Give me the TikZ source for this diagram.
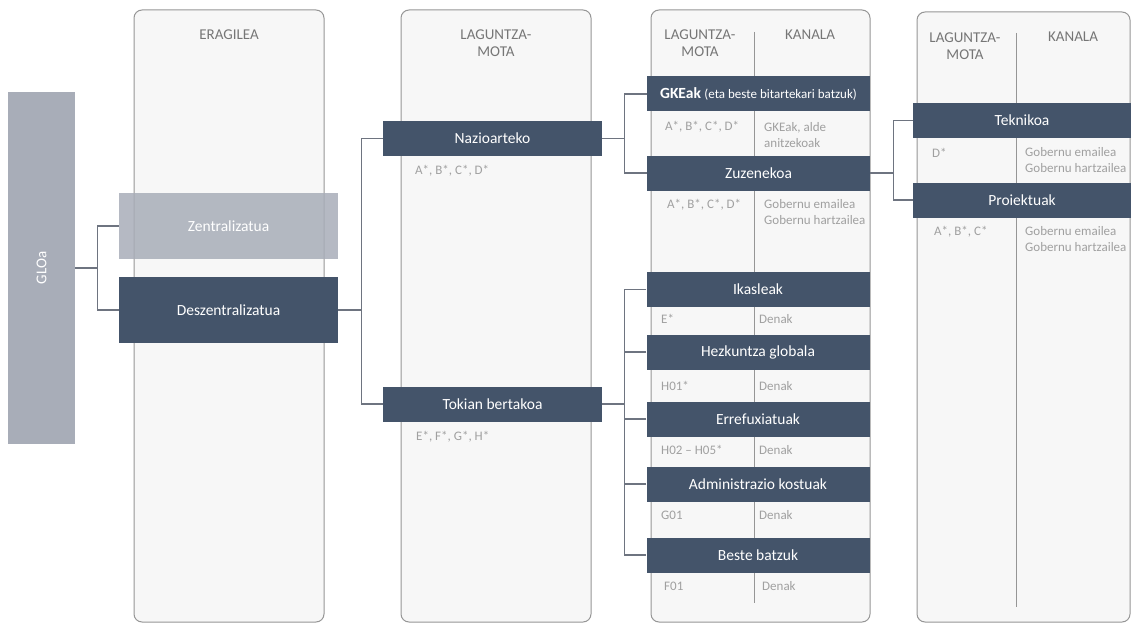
\documentclass[tikz,border=0pt]{standalone}
\usepackage{fontspec}
\setmainfont{Carlito}
\usetikzlibrary{positioning}
\definecolor{darkbox}{RGB}{68,84,106}
\definecolor{greybox}{RGB}{168,173,184}
\definecolor{panelfill}{RGB}{247,247,247}
\definecolor{panelline}{RGB}{150,150,150}
\definecolor{headtext}{RGB}{118,118,118}
\definecolor{notetext}{RGB}{160,160,160}
\definecolor{linkline}{RGB}{110,116,128}
\tikzset{
  panel/.style={draw=panelline, fill=panelfill, line width=1pt, rounded corners=8pt, minimum height=612pt, inner sep=0pt},
  head/.style={text=headtext, align=center, font=\fontsize{15}{17}\selectfont},
  topic/.style={fill=darkbox, text=white, minimum height=35pt, inner sep=0pt, font=\fontsize{15.5}{17}\selectfont},
  greytopic/.style={topic, fill=greybox, fill opacity=0.85, text opacity=1},
  note/.style={text=notetext, anchor=west, align=left, inner sep=0pt, font=\fontsize{13}{15.5}\selectfont},
  divider/.style={draw=panelline, line width=0.8pt},
  link/.style={draw=linkline, line width=1.4pt},
}
\begin{document}
\begin{tikzpicture}[x=1pt, y=-1pt]
\useasboundingbox (0,0) rectangle (1131,623);
% columns
\node[panel, minimum width=190pt] (eragilea) at (229,316) {};
\node[panel, minimum width=190pt] (motacol) at (496,316) {};
\node[panel, minimum width=219pt] (kanalcol) at (760.5,316) {};
\node[panel, minimum width=213pt, minimum height=610pt] (extracol) at (1023.5,317) {};
\draw[divider] (754,32) -- (754,603);
\draw[divider] (1016,33) -- (1016,607);
\node[head] (h1) at (229,35) {ERAGILEA};
\node[head] (h2) at (496,43.5) {LAGUNTZA-\\MOTA};
\node[head] (h3) at (700,43.5) {LAGUNTZA-\\MOTA};
\node[head] (h4) at (810,35) {KANALA};
\node[head] (h5) at (965,46.5) {LAGUNTZA-\\MOTA};
\node[head] (h6) at (1073,37) {KANALA};
% boxes
\node[fill=greybox, minimum width=67pt, minimum height=352pt, inner sep=0pt] (glo) at (41.5,268) {};
\node[rotate=90, text=white, font=\fontsize{15}{17}\selectfont] (glolabel) at (glo.center) {GLOa};
\node[greytopic, minimum width=219pt, minimum height=66pt] (zentral) at (228.5,226) {Zentralizatua};
\node[topic, minimum width=219pt, minimum height=66pt] (deszentral) at (228.5,310) {Deszentralizatua};
\node[topic, minimum width=219pt] (nazio) at (492.5,138.5) {Nazioarteko};
\node[topic, minimum width=219pt] (tokian) at (492.5,404) {Tokian bertakoa};
\node[topic, minimum width=223pt] (gkeak) at (758.5,94) {\textbf{GKEak} {\fontsize{13}{15}\selectfont(eta beste bitartekari batzuk)}};
\node[topic, minimum width=223pt] (zuzen) at (758.5,173) {Zuzenekoa};
\node[topic, minimum width=223pt] (ikasle) at (758,289.5) {Ikasleak};
\node[topic, minimum width=223pt] (hezkuntza) at (758,352) {Hezkuntza globala};
\node[topic, minimum width=223pt] (errefux) at (758,419) {Errefuxiatuak};
\node[topic, minimum width=223pt] (admin) at (758,484) {Administrazio kostuak};
\node[topic, minimum width=223pt] (beste) at (758,555) {Beste batzuk};
\node[topic, minimum width=218pt] (tekniko) at (1022,120.5) {Teknikoa};
\node[topic, minimum width=218pt] (proiektu) at (1022,200) {Proiektuak};
% notes
\node[note] (naziocode) at (415,171) {A*, B*, C*, D*};
\node[note] (tokiancode) at (416,437) {E*, F*, G*, H*};
\node[note] (gkeakcode) at (665,127) {A*, B*, C*, D*};
\node[note] (gkeakchan) at (764,135) {GKEak, alde\\anitzekoak};
\node[note] (zuzencode) at (667,205) {A*, B*, C*, D*};
\node[note] (zuzenchan) at (764,212) {Gobernu emailea\\Gobernu hartzailea};
\node[note] (ikaslecode) at (661,319) {E*};
\node[note] (ikaslechan) at (759,319) {Denak};
\node[note] (hezkcode) at (661,386) {H01*};
\node[note] (hezkchan) at (759,386) {Denak};
\node[note] (errefcode) at (661,450) {H02 -- H05*};
\node[note] (errefchan) at (759,450) {Denak};
\node[note] (admincode) at (661,515) {G01};
\node[note] (adminchan) at (759,515) {Denak};
\node[note] (bestecode) at (664,586) {F01};
\node[note] (bestechan) at (762,586) {Denak};
\node[note] (teknikocode) at (932,153) {D*};
\node[note] (teknikochan) at (1025,160) {Gobernu emailea\\Gobernu hartzailea};
\node[note] (proiektcode) at (934,232) {A*, B*, C*};
\node[note] (proiektchan) at (1025,239) {Gobernu emailea\\Gobernu hartzailea};
% connectors
\draw[link] (glo.east) -- ++(22,0) coordinate (j0);
\draw[link] (zentral.west) -| (j0) |- (deszentral.west);
\draw[link] (deszentral.east) -- ++(23,0) coordinate (j1);
\draw[link] (nazio.west) -| (j1) |- (tokian.west);
\draw[link] (nazio.east) -- ++(22,0) coordinate (j2);
\draw[link] (gkeak.west) -| (j2) |- (zuzen.west);
\draw[link] (tokian.east) -- ++(22,0) coordinate (j3);
\draw[link] (ikasle.west) -| (j3) |- (beste.west);
\foreach \n in {hezkuntza, errefux, admin}
  \draw[link] (\n.west) -- (\n.west -| j3);
\draw[link] (zuzen.east) -- ++(23,0) coordinate (j4);
\draw[link] (tekniko.west) -| (j4) |- (proiektu.west);
\end{tikzpicture}
\end{document}
